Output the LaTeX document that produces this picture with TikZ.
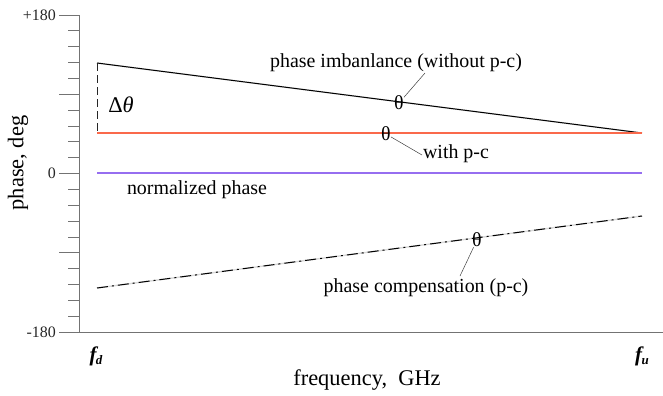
\documentclass[tikz,border=0pt]{standalone}
\usepackage{fontspec}
\setmainfont{Liberation Serif}
\begin{document}
\begin{tikzpicture}[x=1bp,y=-1bp,
  axisline/.style={draw=black!55, line width=0.9bp},
  tickshort/.style={draw=black!55, line width=0.8bp},
  shadowline/.style={draw=black!15, line width=1.4bp},
  lbl/.style={inner sep=0pt, font=\fontsize{20}{23}\selectfont},
  ticklbl/.style={inner sep=0pt, anchor=east, font=\fontsize{16}{18}\selectfont, text=black!85},
  axlbl/.style={inner sep=0pt, font=\fontsize{22.5}{26}\selectfont},
  thmark/.style={inner sep=0pt, font=\fontsize{20}{22}\selectfont},
  leader/.style={draw=black!75, line width=0.5bp},
  freqlbl/.style={inner sep=0pt, font=\fontsize{21}{24}\selectfont\bfseries\itshape}
]
\useasboundingbox (0,0) rectangle (663,395);
\definecolor{redline}{RGB}{250,105,75}
\definecolor{purpleline}{RGB}{150,110,240}

% axes
\coordinate (ytop) at (79,15);
\coordinate (ybot) at (79,332);
\coordinate (xl) at (60,332);
\coordinate (xr) at (663,332);
\draw[axisline] (ytop) -- (ybot);
\draw[axisline] (xl) -- (xr);
\foreach \k in {0,...,20}{
  \pgfmathsetmacro{\yy}{15+\k*15.85}
  \pgfmathtruncatemacro{\md}{mod(\k,5)}
  \ifnum\md=0
    \draw[tickshort] (59,\yy) -- (79,\yy);
  \else
    \draw[tickshort] (68,\yy) -- (79,\yy);
  \fi
}
\node[ticklbl] (t180) at (56,15) {+180};
\node[ticklbl] (t0) at (56,173) {0};
\node[ticklbl] (tm180) at (56,332) {-180};

% curve end points
\coordinate (bkL) at (97,63);
\coordinate (bkR) at (642,133);
\coordinate (rdL) at (97,133);
\coordinate (rdR) at (642,133);
\coordinate (puL) at (97,173);
\coordinate (puR) at (642,173);
\coordinate (ddL) at (97,288);
\coordinate (ddR) at (642,216);

% shadows
\begin{scope}[shift={(1,1.8)}]
\draw[shadowline] (bkL) -- (bkR);
\draw[shadowline] (rdL) -- (rdR);
\draw[shadowline] (puL) -- (puR);
\draw[shadowline] (ddL) -- (ddR);
\end{scope}

% curves
\draw[black, line width=1bp] (bkL) -- (bkR);
\draw[redline, line width=1.2bp] (rdL) -- (rdR);
\draw[purpleline, line width=1.4bp] (puL) -- (puR);
\draw[black, line width=1bp, dash pattern=on 11bp off 4bp on 2bp off 4bp] (ddL) -- (ddR);
\draw[black!85, line width=1bp, dash pattern=on 8bp off 4bp] (bkL) -- (rdL);

% delta theta
\node[axlbl] (dth) at (121,105) {Δ\textit{θ}};

% theta markers
\node[thmark] (th1) at (399,103) {θ};
\node[thmark] (th2) at (386,134) {θ};
\node[thmark] (th3) at (477,240) {θ};

% labels
\node[lbl] (lab1) at (396,63) {phase imbanlance (without p-c)};
\node[lbl] (lab2) at (456,154) {with p-c};
\node[lbl] (lab3) at (197,190) {normalized phase};
\node[lbl] (lab4) at (426,288) {phase compensation (p-c)};

\coordinate (e1) at (425,73);
\coordinate (e2) at (422,155);
\coordinate (e3) at (460,276);
\draw[leader] (th1) -- (e1);
\draw[leader] (th2) -- (e2);
\draw[leader] (th3) -- (e3);

% axis labels
\node[freqlbl] (fd) at (96,356) {f\kern-0.5bp\raisebox{-3bp}{\fontsize{13}{13}\selectfont d}};
\node[freqlbl] (fu) at (642,356) {f\kern-0.5bp\raisebox{-3bp}{\fontsize{13}{13}\selectfont u}};
\node[axlbl] (xlab) at (367,380) {frequency,~~GHz};
\node[axlbl, rotate=90] (ylab) at (18,163) {phase, deg};
\end{tikzpicture}
\end{document}
